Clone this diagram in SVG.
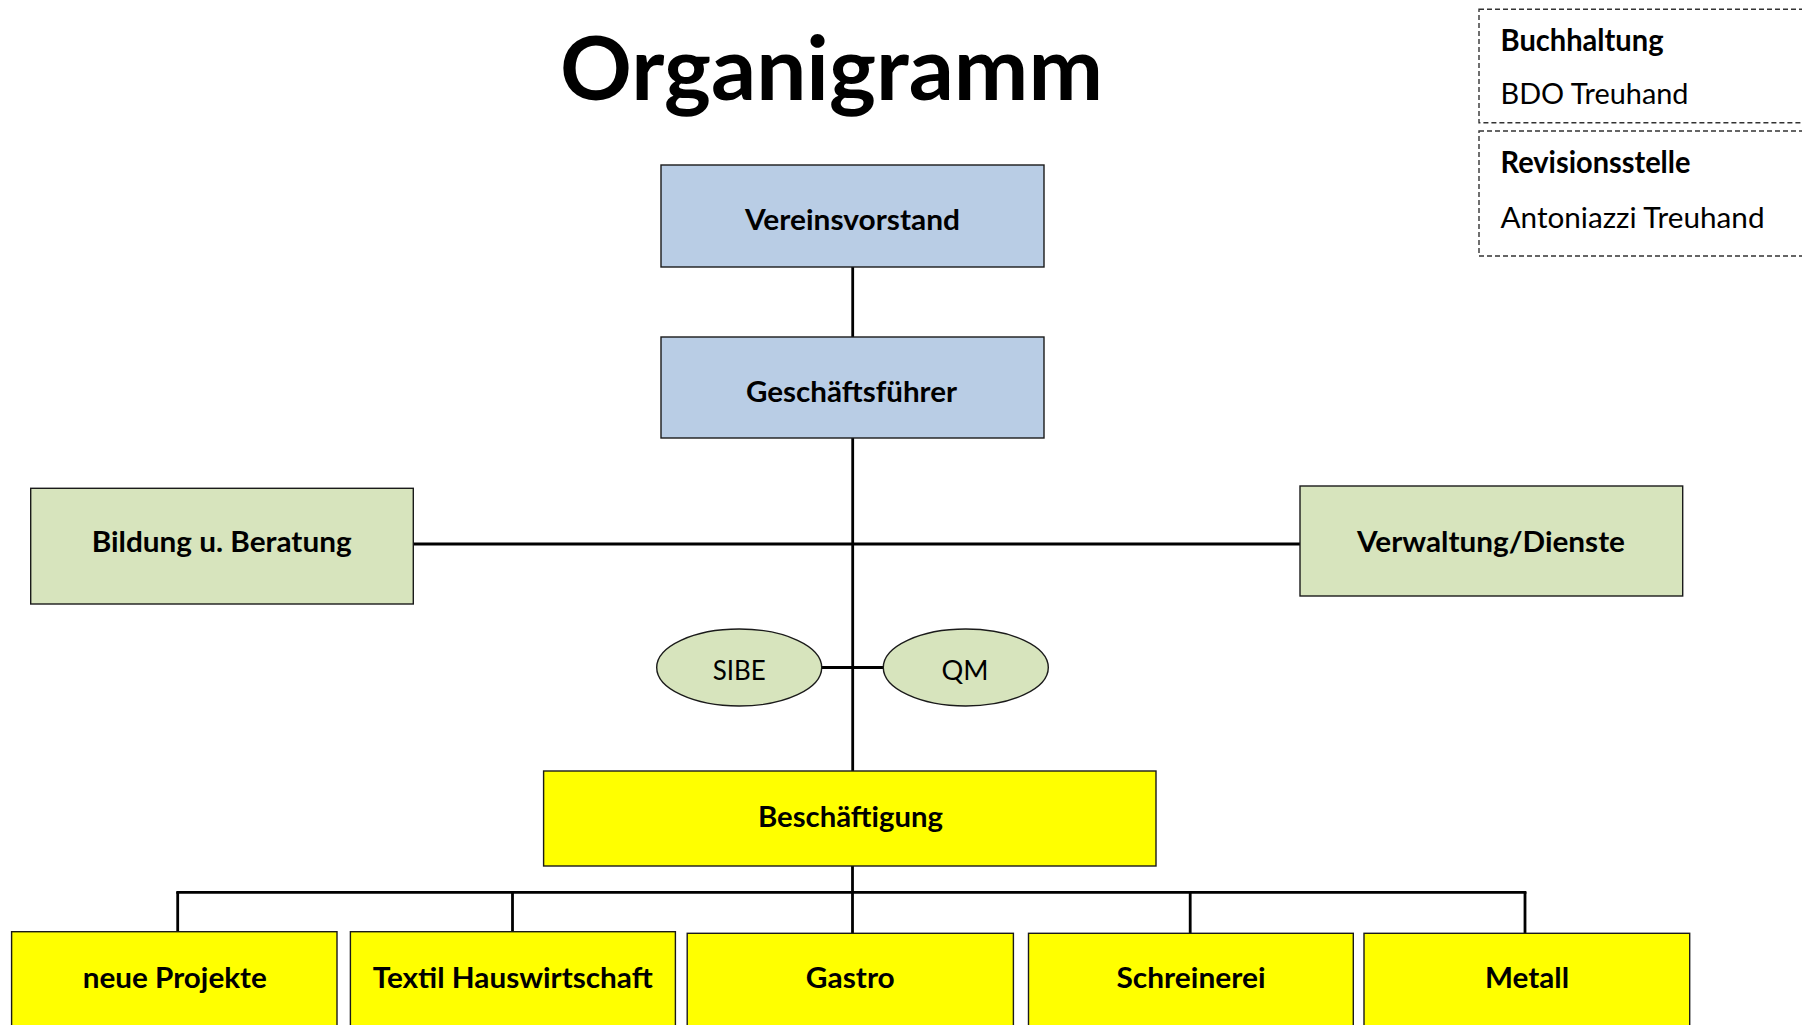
<svg xmlns="http://www.w3.org/2000/svg" width="1802" height="1025" viewBox="0 0 1802 1025">
<style>
.box{stroke:#1a1a1a;stroke-width:1.4}
.blue{fill:#B9CDE5}
.green{fill:#D7E4BD}
.yellow{fill:#FFFF00}
.lbl{font-family:Lato,"Open Sans",sans-serif;font-weight:bold;font-size:28px;fill:#000;text-anchor:middle}
.reg{font-family:Lato,"Open Sans",sans-serif;font-size:27px;fill:#000;text-anchor:middle}
.leg{font-family:Lato,"Open Sans",sans-serif;font-size:29.5px;fill:#000}
.legb{font-family:Lato,"Open Sans",sans-serif;font-size:29.5px;font-weight:bold;fill:#000}
.dash{fill:none;stroke:#333;stroke-width:1.4;stroke-dasharray:5 3}
.con{stroke:#000;stroke-width:2.8;fill:none}
</style>
<rect width="1802" height="1025" fill="#fff"/>
<text id="title" x="831.5" y="100" font-family="Lato,'Open Sans',sans-serif" font-weight="bold" font-size="88" text-anchor="middle" textLength="543" lengthAdjust="spacingAndGlyphs">Organigramm</text>

<g id="connectors">
<line class="con" x1="852.7" y1="267" x2="852.7" y2="337"/>
<line class="con" x1="852.7" y1="438" x2="852.7" y2="771"/>
<line class="con" x1="413" y1="544" x2="1300" y2="544"/>
<line class="con" x1="821.7" y1="667.5" x2="883.3" y2="667.5"/>
<line class="con" x1="852.5" y1="866" x2="852.5" y2="933"/>
<line class="con" x1="176.3" y1="892.3" x2="1526.4" y2="892.3" stroke-width="3.2"/>
<line class="con" x1="177.7" y1="892" x2="177.7" y2="931.7"/>
<line class="con" x1="512.5" y1="892" x2="512.5" y2="931.7"/>
<line class="con" x1="1190.2" y1="892" x2="1190.2" y2="933"/>
<line class="con" x1="1525" y1="892" x2="1525" y2="933"/>
</g>

<g id="n-vereinsvorstand">
<rect class="box blue" x="661" y="165" width="383" height="102"/>
<text class="lbl" x="852.5" y="230" textLength="215" lengthAdjust="spacingAndGlyphs">Vereinsvorstand</text>
</g>
<g id="n-geschaeftsfuehrer">
<rect class="box blue" x="661" y="337" width="383" height="101"/>
<text class="lbl" x="851.5" y="402" textLength="211" lengthAdjust="spacingAndGlyphs">Geschäftsführer</text>
</g>
<g id="n-bildung">
<rect class="box green" x="30.7" y="488.3" width="382.6" height="115.7"/>
<text class="lbl" x="221.7" y="552" textLength="260" lengthAdjust="spacingAndGlyphs">Bildung u. Beratung</text>
</g>
<g id="n-verwaltung">
<rect class="box green" x="1300" y="486" width="382.7" height="110"/>
<text class="lbl" x="1491" y="552" textLength="268" lengthAdjust="spacingAndGlyphs">Verwaltung/Dienste</text>
</g>
<g id="n-sibe">
<ellipse class="box green" cx="739.2" cy="667.5" rx="82.5" ry="38.5"/>
<text class="reg" x="739.3" y="680" textLength="53" lengthAdjust="spacingAndGlyphs">SIBE</text>
</g>
<g id="n-qm">
<ellipse class="box green" cx="965.8" cy="667.5" rx="82.5" ry="38.5"/>
<text class="reg" x="965" y="680" textLength="47" lengthAdjust="spacingAndGlyphs">QM</text>
</g>
<g id="n-beschaeftigung">
<rect class="box yellow" x="543.6" y="771" width="612.4" height="95"/>
<text class="lbl" x="850.5" y="827" textLength="185" lengthAdjust="spacingAndGlyphs">Beschäftigung</text>
</g>
<g id="n-neue-projekte">
<rect class="box yellow" x="11.6" y="931.7" width="325.4" height="110"/>
<text class="lbl" x="174.8" y="988" textLength="184" lengthAdjust="spacingAndGlyphs">neue Projekte</text>
</g>
<g id="n-textil">
<rect class="box yellow" x="350.4" y="931.7" width="325" height="110"/>
<text class="lbl" x="512.7" y="988" textLength="280" lengthAdjust="spacingAndGlyphs">Textil Hauswirtschaft</text>
</g>
<g id="n-gastro">
<rect class="box yellow" x="687.2" y="933.3" width="326.2" height="110"/>
<text class="lbl" x="850.3" y="988" textLength="89" lengthAdjust="spacingAndGlyphs">Gastro</text>
</g>
<g id="n-schreinerei">
<rect class="box yellow" x="1028.5" y="933.3" width="324.8" height="110"/>
<text class="lbl" x="1191" y="988" textLength="149" lengthAdjust="spacingAndGlyphs">Schreinerei</text>
</g>
<g id="n-metall">
<rect class="box yellow" x="1364" y="933.3" width="325.7" height="110"/>
<text class="lbl" x="1527" y="988" textLength="84" lengthAdjust="spacingAndGlyphs">Metall</text>
</g>

<g id="n-buchhaltung">
<rect class="dash" x="1479" y="9.3" width="340" height="113.4"/>
<text class="legb" x="1500.5" y="50.5" textLength="163" lengthAdjust="spacingAndGlyphs">Buchhaltung</text>
<text class="leg" x="1500.5" y="104" textLength="188" lengthAdjust="spacingAndGlyphs">BDO Treuhand</text>
</g>
<g id="n-revisionsstelle">
<rect class="dash" x="1479" y="131" width="340" height="125"/>
<text class="legb" x="1500.5" y="172.5" textLength="190" lengthAdjust="spacingAndGlyphs">Revisionsstelle</text>
<text class="leg" x="1500.5" y="228" textLength="264" lengthAdjust="spacingAndGlyphs">Antoniazzi Treuhand</text>
</g>
</svg>
